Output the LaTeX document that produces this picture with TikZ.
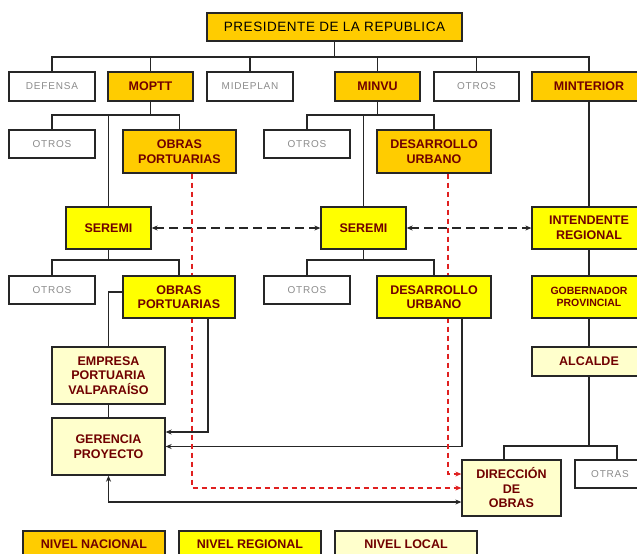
\documentclass[tikz,border=0pt]{standalone}
\usepackage{fontspec}
\setmainfont{Liberation Sans}
\usetikzlibrary{positioning,backgrounds,arrows.meta}

\definecolor{nacional}{HTML}{FFCC00}
\definecolor{regional}{HTML}{FFFF00}
\definecolor{local}{HTML}{FFFFCC}
\definecolor{rojotxt}{HTML}{700000}
\definecolor{grisotxt}{HTML}{8C8C8C}
\definecolor{rojolinea}{HTML}{E02020}

\tikzset{
  box/.style={draw=black!85, line width=1.3pt, inner sep=0pt, align=center,
    minimum height=29pt},
  nivel/.style={box, text=rojotxt, font=\bfseries\fontsize{12.5}{14.5}\selectfont},
  nac/.style={nivel, fill=nacional},
  reg/.style={nivel, fill=regional},
  loc/.style={nivel, fill=local},
  otro/.style={box, fill=white, text=grisotxt, minimum width=86pt,
    font=\fontsize{10}{12}\selectfont\addfontfeatures{LetterSpace=8}},
  linea/.style={line width=1.5pt, black!85},
  flecha/.style={linea, >={Stealth[length=6pt,width=5pt]}},
  rojo/.style={line width=1.2pt, rojolinea, dash pattern=on 5pt off 4pt,
    >={Stealth[length=6pt,width=5pt]}},
}

\begin{document}
\begin{tikzpicture}[x=1pt, y=-1pt]
\clip (0,0) rectangle (637,554);

% nivel nacional
\node[box, fill=nacional, minimum width=255pt, minimum height=28pt,
  font=\fontsize{13.5}{16}\selectfont\addfontfeatures{LetterSpace=4}] (pres) at (334.5,27) {PRESIDENTE DE LA REPUBLICA};
\node[otro] (defensa) at (52,86.5) {DEFENSA};
\node[nac, minimum width=85pt] (moptt) at (150.5,86.5) {MOPTT};
\node[otro] (mideplan) at (250,86.5) {MIDEPLAN};
\node[nac, minimum width=85pt] (minvu) at (377.5,86.5) {MINVU};
\node[otro, minimum width=85pt] (otros1) at (476.5,86.5) {OTROS};
\node[nac, minimum width=114pt] (minterior) at (589,86.5) {MINTERIOR};

\node[otro, minimum height=28pt] (otros2) at (52,144) {OTROS};
\node[nac, minimum width=113pt, minimum height=43pt] (obras1) at (179.5,151.5) {OBRAS\\PORTUARIAS};
\node[otro, minimum height=28pt] (otros3) at (307,144) {OTROS};
\node[nac, minimum width=114pt, minimum height=43pt] (desa1) at (434,151.5) {DESARROLLO\\URBANO};

% nivel regional
\node[reg, minimum width=85pt, minimum height=42pt] (seremi1) at (108.5,228) {SEREMI};
\node[reg, minimum width=85pt, minimum height=42pt] (seremi2) at (363.5,228) {SEREMI};
\node[reg, minimum width=114pt, minimum height=42pt] (intendente) at (589,228) {INTENDENTE\\REGIONAL};

\node[otro, minimum height=28pt] (otros4) at (52,290) {OTROS};
\node[reg, minimum width=112pt, minimum height=42pt] (obras2) at (179,297) {OBRAS\\PORTUARIAS};
\node[otro, minimum height=28pt] (otros5) at (307,290) {OTROS};
\node[reg, minimum width=114pt, minimum height=42pt] (desa2) at (434,297) {DESARROLLO\\URBANO};
\node[reg, minimum width=114pt, minimum height=42pt,
  font=\bfseries\fontsize{10.5}{12.5}\selectfont] (gober) at (589,297) {GOBERNADOR\\PROVINCIAL};

% nivel local
\node[loc, minimum width=114pt] (alcalde) at (589,361.5) {ALCALDE};
\node[loc, minimum width=113pt, minimum height=57pt] (empresa) at (108.5,375.5) {EMPRESA\\PORTUARIA\\VALPARAÍSO};
\node[loc, minimum width=113pt, minimum height=57pt] (gerencia) at (108.5,446.5) {GERENCIA\\PROYECTO};
\node[loc, minimum width=99pt, minimum height=56pt] (direccion) at (511.5,488) {DIRECCIÓN\\DE\\OBRAS};
\node[otro, minimum width=70pt, minimum height=28pt] (otras) at (610,474) {OTRAS};

% leyenda
\node[nac, minimum width=142pt, minimum height=26pt] (leynac) at (94,544) {NIVEL NACIONAL};
\node[reg, minimum width=142pt, minimum height=26pt] (leyreg) at (250,544) {NIVEL REGIONAL};
\node[loc, minimum width=142pt, minimum height=26pt] (leyloc) at (406,544) {NIVEL LOCAL};

\begin{scope}[on background layer]
\coordinate (b1) at (334.5,57);
\coordinate (b2) at (150.5,115);
\coordinate (b3) at (377.5,115);
\coordinate (b4) at (108.5,260);
\coordinate (b5) at (363.5,260);
\coordinate (b6) at (589,446);

\draw[linea] (pres.south) -- (b1);
\draw[linea] (defensa.north) |- (b1) -| (minterior.north);
\foreach \n in {moptt,mideplan,minvu,otros1}
  \draw[linea] (\n.north) -- (\n.north |- b1);

\draw[linea] (moptt.south) -- (b2);
\draw[linea] (otros2.north) |- (b2) -| (obras1.north);
\draw[linea] (seremi1.north) -- (seremi1.north |- b2);
\draw[linea] (minvu.south) -- (b3);
\draw[linea] (otros3.north) |- (b3) -| (desa1.north);
\draw[linea] (seremi2.north) -- (seremi2.north |- b3);
\draw[linea] (minterior.south) -- (intendente.north);

\draw[linea] (seremi1.south) -- (b4);
\draw[linea] (otros4.north) |- (b4) -| (obras2.north);
\draw[linea] (seremi2.south) -- (b5);
\draw[linea] (otros5.north) |- (b5) -| (desa2.north);
\draw[linea] (intendente.south) -- (gober.north);
\draw[linea] (gober.south) -- (alcalde.north);
\draw[linea] (alcalde.south) -- (b6);
\draw[linea] ([xshift=-7.5pt]direccion.north) |- (b6) -| ([xshift=7pt]otras.north);

\draw[linea] ([yshift=5pt]obras2.west) -| (empresa.north);
\draw[linea] (empresa.south) -- (gerencia.north);

% coordinacion regional
\draw[flecha, <->, line width=1.5pt, dash pattern=on 9pt off 5pt] (seremi1.east) -- (seremi2.west);
\draw[flecha, <->, line width=1.5pt, dash pattern=on 9pt off 5pt] (seremi2.east) -- (intendente.west);

% hacia gerencia y direccion de obras
\draw[flecha, ->] ([xshift=29pt]obras2.south) |- ([yshift=14.5pt]gerencia.east);
\draw[flecha, ->] ([xshift=28pt]desa2.south) |- (gerencia.east);
\draw[flecha, <->] (gerencia.south) |- ([yshift=-14pt]direccion.west);
\draw[rojo, ->] ([xshift=12.5pt]obras1.south) |- (direccion.west);
\draw[rojo, ->] ([xshift=14pt]desa1.south) |- ([yshift=14pt]direccion.west);
\end{scope}
\end{tikzpicture}
\end{document}
